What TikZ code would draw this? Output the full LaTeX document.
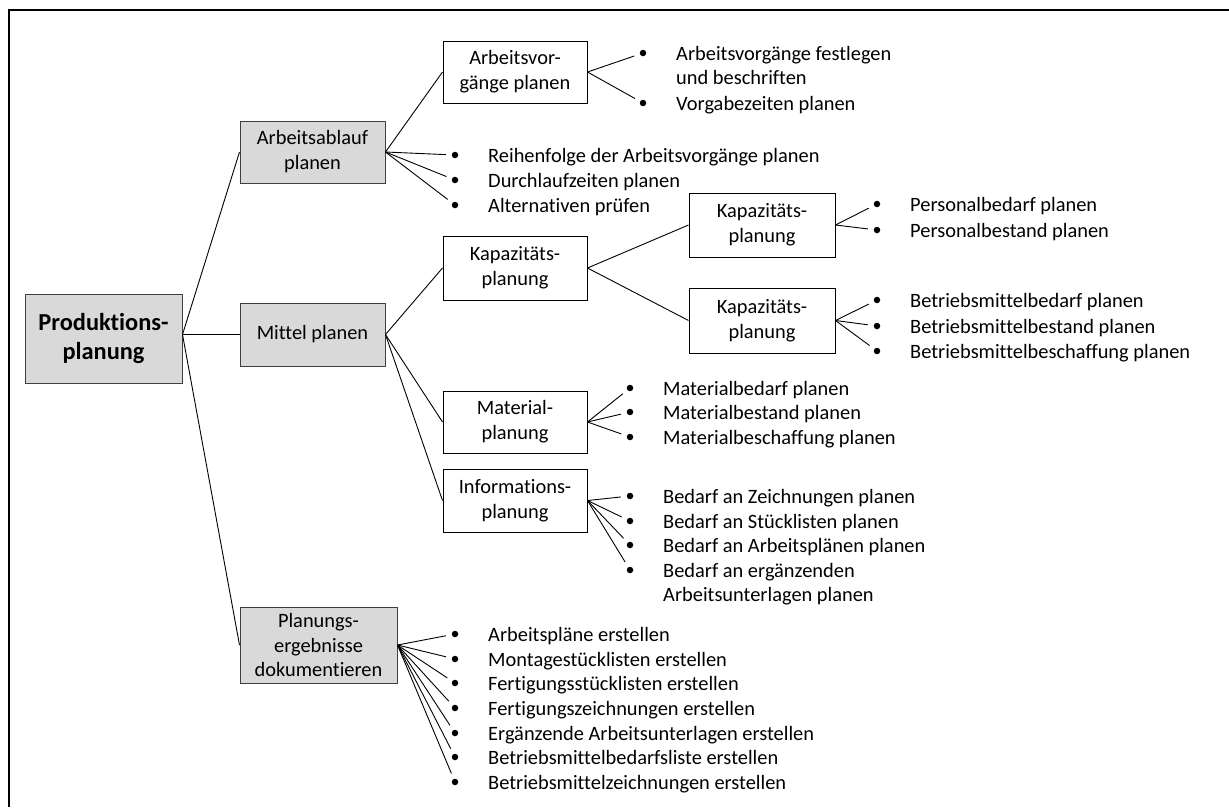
\documentclass[tikz,border=0pt]{standalone}
\usepackage{fontspec}
\setmainfont{Carlito}[Ligatures=NoCommon]
\usetikzlibrary{calc}
\definecolor{boxgray}{HTML}{D9D9D9}
\definecolor{boxline}{HTML}{404040}

% one list entry: a bullet dot and its text to the right;
% the text sits on the baseline of its first line
\newcommand\listentry[4]{%
  \node[bul] (#1) at (#2,#3) {};
  \node[item] (#1t) at ($(#2,#3)+(33,7)$)
    {\begin{tabular}[t]{@{}l@{}}#4\end{tabular}};
}

\begin{document}
\begin{tikzpicture}[x=1pt,y=-1pt,
  every node/.style={font=\fontsize{20.4}{24.9}\selectfont},
  box/.style={draw, line width=1pt, align=center, minimum width=144pt,
              minimum height=63pt, inner sep=1pt},
  gbox/.style={box, fill=boxgray, draw=boxline},
  bul/.style={circle, fill, inner sep=0pt, minimum size=6.5pt, outer sep=6pt},
  item/.style={anchor=base west, inner sep=0pt},
  link/.style={line width=0.9pt}]

\useasboundingbox (0,0) rectangle (1229,807);
% outer frame, cut by the page edge on the right and at the bottom
\draw[line width=2pt] (1229,10) -- (9,10) -- (9,807);

% main boxes
\node[gbox, minimum width=157pt, minimum height=89pt,
      font=\bfseries\fontsize{24.4}{29.8}\selectfont] (P) at (103.5,338.5) {Produktions-\\planung};
\node[gbox, minimum width=145pt, minimum height=62pt] (A) at (312.5,152) {Arbeitsablauf\\planen};
\node[gbox, minimum width=145pt] (M) at (312.5,334.5) {Mittel planen};
\node[gbox, minimum width=157pt, minimum height=76pt] (D) at (318.5,645) {Planungs-\\ergebnisse\\dokumentieren};

% second level boxes
\node[box, minimum height=62pt] (AV) at (515,72) {Arbeitsvor-\\gänge planen};
\node[box, minimum height=64pt] (K) at (515,268) {Kapazitäts-\\planung};
\node[box, minimum width=146pt, minimum height=64pt] (KP) at (762,225) {Kapazitäts-\\planung};
\node[box, minimum width=146pt, minimum height=65pt] (KB) at (762,320.5) {Kapazitäts-\\planung};
\node[box, minimum height=62pt] (MA) at (515,422) {Material-\\planung};
\node[box, minimum height=63pt] (IN) at (515,500.5) {Informations-\\planung};

% tree connectors
\coordinate (Pfan) at (P.east |- M.west);
\draw[link] (Pfan) -- (A.west);
\draw[link] (Pfan) -- (M.west);
\draw[link] (Pfan) -- (D.west);
\draw[link] (A.east) -- (AV.west);
\draw[link] (M.east) -- (K.west);
\draw[link] (M.east) -- (MA.west);
\draw[link] (M.east) -- (IN.west);
\draw[link] (K.east) -- (KP.west);
\draw[link] (K.east) -- (KB.west);

% lists
\listentry{av1}{643}{53}{Arbeitsvorgänge festlegen\\und beschriften}
\listentry{av2}{643}{103}{Vorgabezeiten planen}

\listentry{a1}{455}{155}{Reihenfolge der Arbeitsvorgänge planen}
\listentry{a2}{455}{180}{Durchlaufzeiten planen}
\listentry{a3}{455}{205}{Alternativen prüfen}

\listentry{kp1}{877}{204}{Personalbedarf planen}
\listentry{kp2}{877}{230}{Personalbestand planen}

\listentry{kb1}{877}{300}{Betriebsmittelbedarf planen}
\listentry{kb2}{877}{326}{Betriebsmittelbestand planen}
\listentry{kb3}{877}{351}{Betriebsmittelbeschaffung planen}

\listentry{ma1}{630}{388}{Materialbedarf planen}
\listentry{ma2}{630}{412}{Materialbestand planen}
\listentry{ma3}{630}{437}{Materialbeschaffung planen}

\listentry{in1}{630}{496}{Bedarf an Zeichnungen planen}
\listentry{in2}{630}{521}{Bedarf an Stücklisten planen}
\listentry{in3}{630}{545}{Bedarf an Arbeitsplänen planen}
\listentry{in4}{630}{570}{Bedarf an ergänzenden\\Arbeitsunterlagen planen}

\listentry{d1}{455}{634}{Arbeitspläne erstellen}
\listentry{d2}{455}{659}{Montagestücklisten erstellen}
\listentry{d3}{455}{683}{Fertigungsstücklisten erstellen}
\listentry{d4}{455}{708}{Fertigungszeichnungen erstellen}
\listentry{d5}{455}{733}{Ergänzende Arbeitsunterlagen erstellen}
\listentry{d6}{455}{757}{Betriebsmittelbedarfsliste erstellen}
\listentry{d7}{455}{782}{Betriebsmittelzeichnungen erstellen}

% list connectors
\foreach \i in {1,2} \draw[link] (AV.east) -- (av\i);
\foreach \i in {1,2,3} \draw[link] (A.east) -- (a\i);
\foreach \i in {1,2} \draw[link] (KP.east) -- (kp\i);
\foreach \i in {1,2,3} \draw[link] (KB.east) -- (kb\i);
\foreach \i in {1,2,3} \draw[link] (MA.east) -- (ma\i);
\foreach \i in {1,...,4} \draw[link] (IN.east) -- (in\i);
\foreach \i in {1,...,7} \draw[link] (D.east) -- (d\i);

\end{tikzpicture}
\end{document}
